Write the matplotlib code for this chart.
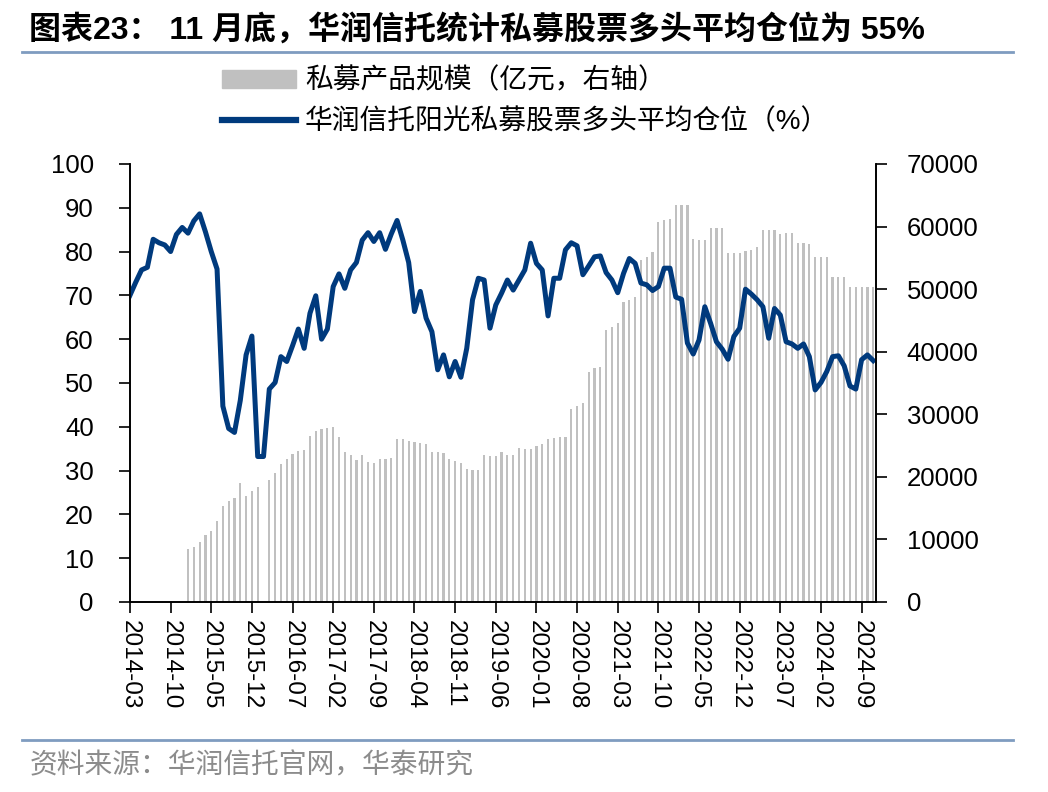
import numpy as np
import pandas as pd
import matplotlib
matplotlib.use("Agg")
import matplotlib.pyplot as plt
from matplotlib.patches import Patch
from matplotlib.lines import Line2D

plt.rcParams['font.family'] = ['Liberation Sans', 'Noto Sans CJK SC', 'DejaVu Sans']

# months 2014-03 .. 2024-11
months = [str(p) for p in pd.period_range("2014-03", "2024-11", freq="M")]

# average position of long-only private equity funds (%), left axis
position = [
    70, 73, 75.8, 76.4, 82.8, 82, 81.5, 80, 83.9, 85.5,
    84.2, 87, 88.6, 84.5, 80, 76, 44.7, 39.6, 38.7, 46,
    56.4, 60.7, 33.2, 33.2, 48.6, 50.1, 56, 54.9, 58.5, 62.3,
    57.9, 65.9, 69.9, 60, 62.3, 72, 74.9, 71.6, 75.8, 77.5,
    82.6, 84.3, 82.3, 84.3, 80.5, 84, 87.1, 82.6, 77.5, 66.3,
    70.9, 64.8, 61.7, 53, 56.4, 51.4, 54.9, 51.3, 57.9, 69,
    73.9, 73.5, 62.5, 67.8, 70.5, 73.5, 71.2, 73.5, 75.8, 81.9,
    77.3, 75.8, 65.3, 73.9, 73.9, 80.4, 82, 81.3, 74.7, 76.7,
    78.8, 79, 75.2, 73.5, 70.6, 75, 78.4, 77.3, 72.8, 72.4,
    71.1, 72, 76.2, 76.2, 69.6, 69.1, 59.1, 56.6, 59.8, 67.4,
    63.6, 59.4, 57.7, 55.4, 60.6, 62.5, 71.4, 70.3, 69, 67.4,
    60.2, 67, 65.5, 59.4, 58.9, 57.9, 58.9, 56, 48.4, 50.1,
    52.6, 56, 56.2, 53.9, 49.3, 48.6, 55.3, 56.4, 55.1,
]

# private fund size (100 million yuan), right axis
size = [
    0, 0, 0, 0, 0, 0, 0, 0, 0, 0,
    8420, 8840, 9640, 10700, 11400, 13000, 15340, 16140, 16670, 18970,
    16940, 17790, 18330, 0, 19500, 20560, 22050, 22850, 23650, 24130,
    24240, 26530, 27330, 27700, 27860, 27960, 26310, 23920, 23490, 22690,
    23490, 22420, 22160, 22800, 22800, 22960, 26050, 26050, 25780, 25520,
    25360, 25250, 24020, 23920, 23760, 22800, 22580, 22260, 21250, 21090,
    21090, 23490, 23380, 23330, 23920, 23490, 23490, 24560, 24450, 24450,
    24980, 25250, 26000, 26160, 26310, 26420, 30840, 31370, 31740, 36700,
    37340, 37600, 43470, 43990, 44530, 47990, 48260, 48690, 54650, 55180,
    55880, 60770, 61040, 61200, 63440, 63440, 63440, 57960, 57850, 57850,
    59810, 59810, 59700, 55720, 55720, 55720, 56140, 56250, 56680, 59450,
    59450, 59450, 58810, 58920, 58920, 57320, 57320, 57160, 55180, 55070,
    55070, 51880, 51880, 51880, 50390, 50390, 50390, 50390, 50390,
]

x = np.arange(len(months))

fig = plt.figure(figsize=(10.48, 7.92), dpi=100)
ax = fig.add_axes([0.124, 0.240, 0.712, 0.553])
ax2 = ax.twinx()

ax2.bar(x, size, width=0.38, color='#C0C0C0')
ax.plot(x, position, color='#003A7D', lw=3.6)

ax.set_zorder(ax2.get_zorder() + 1)
ax.patch.set_visible(False)

ax.set_xlim(0, len(months) - 0.5)
ax.set_ylim(0, 100)
ax2.set_ylim(0, 70000)
ax.set_yticks(range(0, 101, 10))
ax2.set_yticks(range(0, 70001, 10000))
ax.set_xticks(x[::7])
ax.set_xticklabels(months[::7], rotation=-90)

for a in (ax, ax2):
    a.spines['top'].set_visible(False)
    for s in a.spines.values():
        s.set_linewidth(1.2)
ax.tick_params(axis='y', labelsize=18.5, length=8, width=1.2, direction='out', pad=18)
ax.tick_params(axis='x', labelsize=17.5, length=8, width=1.2, direction='out', pad=5)
ax2.tick_params(axis='y', labelsize=18.5, length=8, width=1.2, direction='out', pad=14)

# title and rules
fig.text(0.028, 0.962, "图表23： 11 月底，华润信托统计私募股票多头平均仓位为 55%",
         fontsize=23, fontweight='bold', va='center', ha='left')
fig.add_artist(Line2D([0.021, 0.967], [0.934, 0.934], color='#7F9CC0', lw=2))
fig.add_artist(Line2D([0.021, 0.967], [0.066, 0.066], color='#7F9CC0', lw=2))
fig.text(0.028, 0.033, "资料来源：华润信托官网，华泰研究", fontsize=20,
         color='#8C8C8C', va='center', ha='left')

handles = [Patch(color='#C0C0C0'), Line2D([], [], color='#003A7D', lw=4.5)]
labels = ["私募产品规模（亿元，右轴）", "华润信托阳光私募股票多头平均仓位（%）"]
fig.legend(handles, labels, loc='upper left', bbox_to_anchor=(0.212, 0.914),
           frameon=False, fontsize=20, handlelength=2.65, handleheight=0.6,
           handletextpad=0.33, labelspacing=0.5, borderpad=0, borderaxespad=0)

fig.savefig("out.png", dpi=100)
